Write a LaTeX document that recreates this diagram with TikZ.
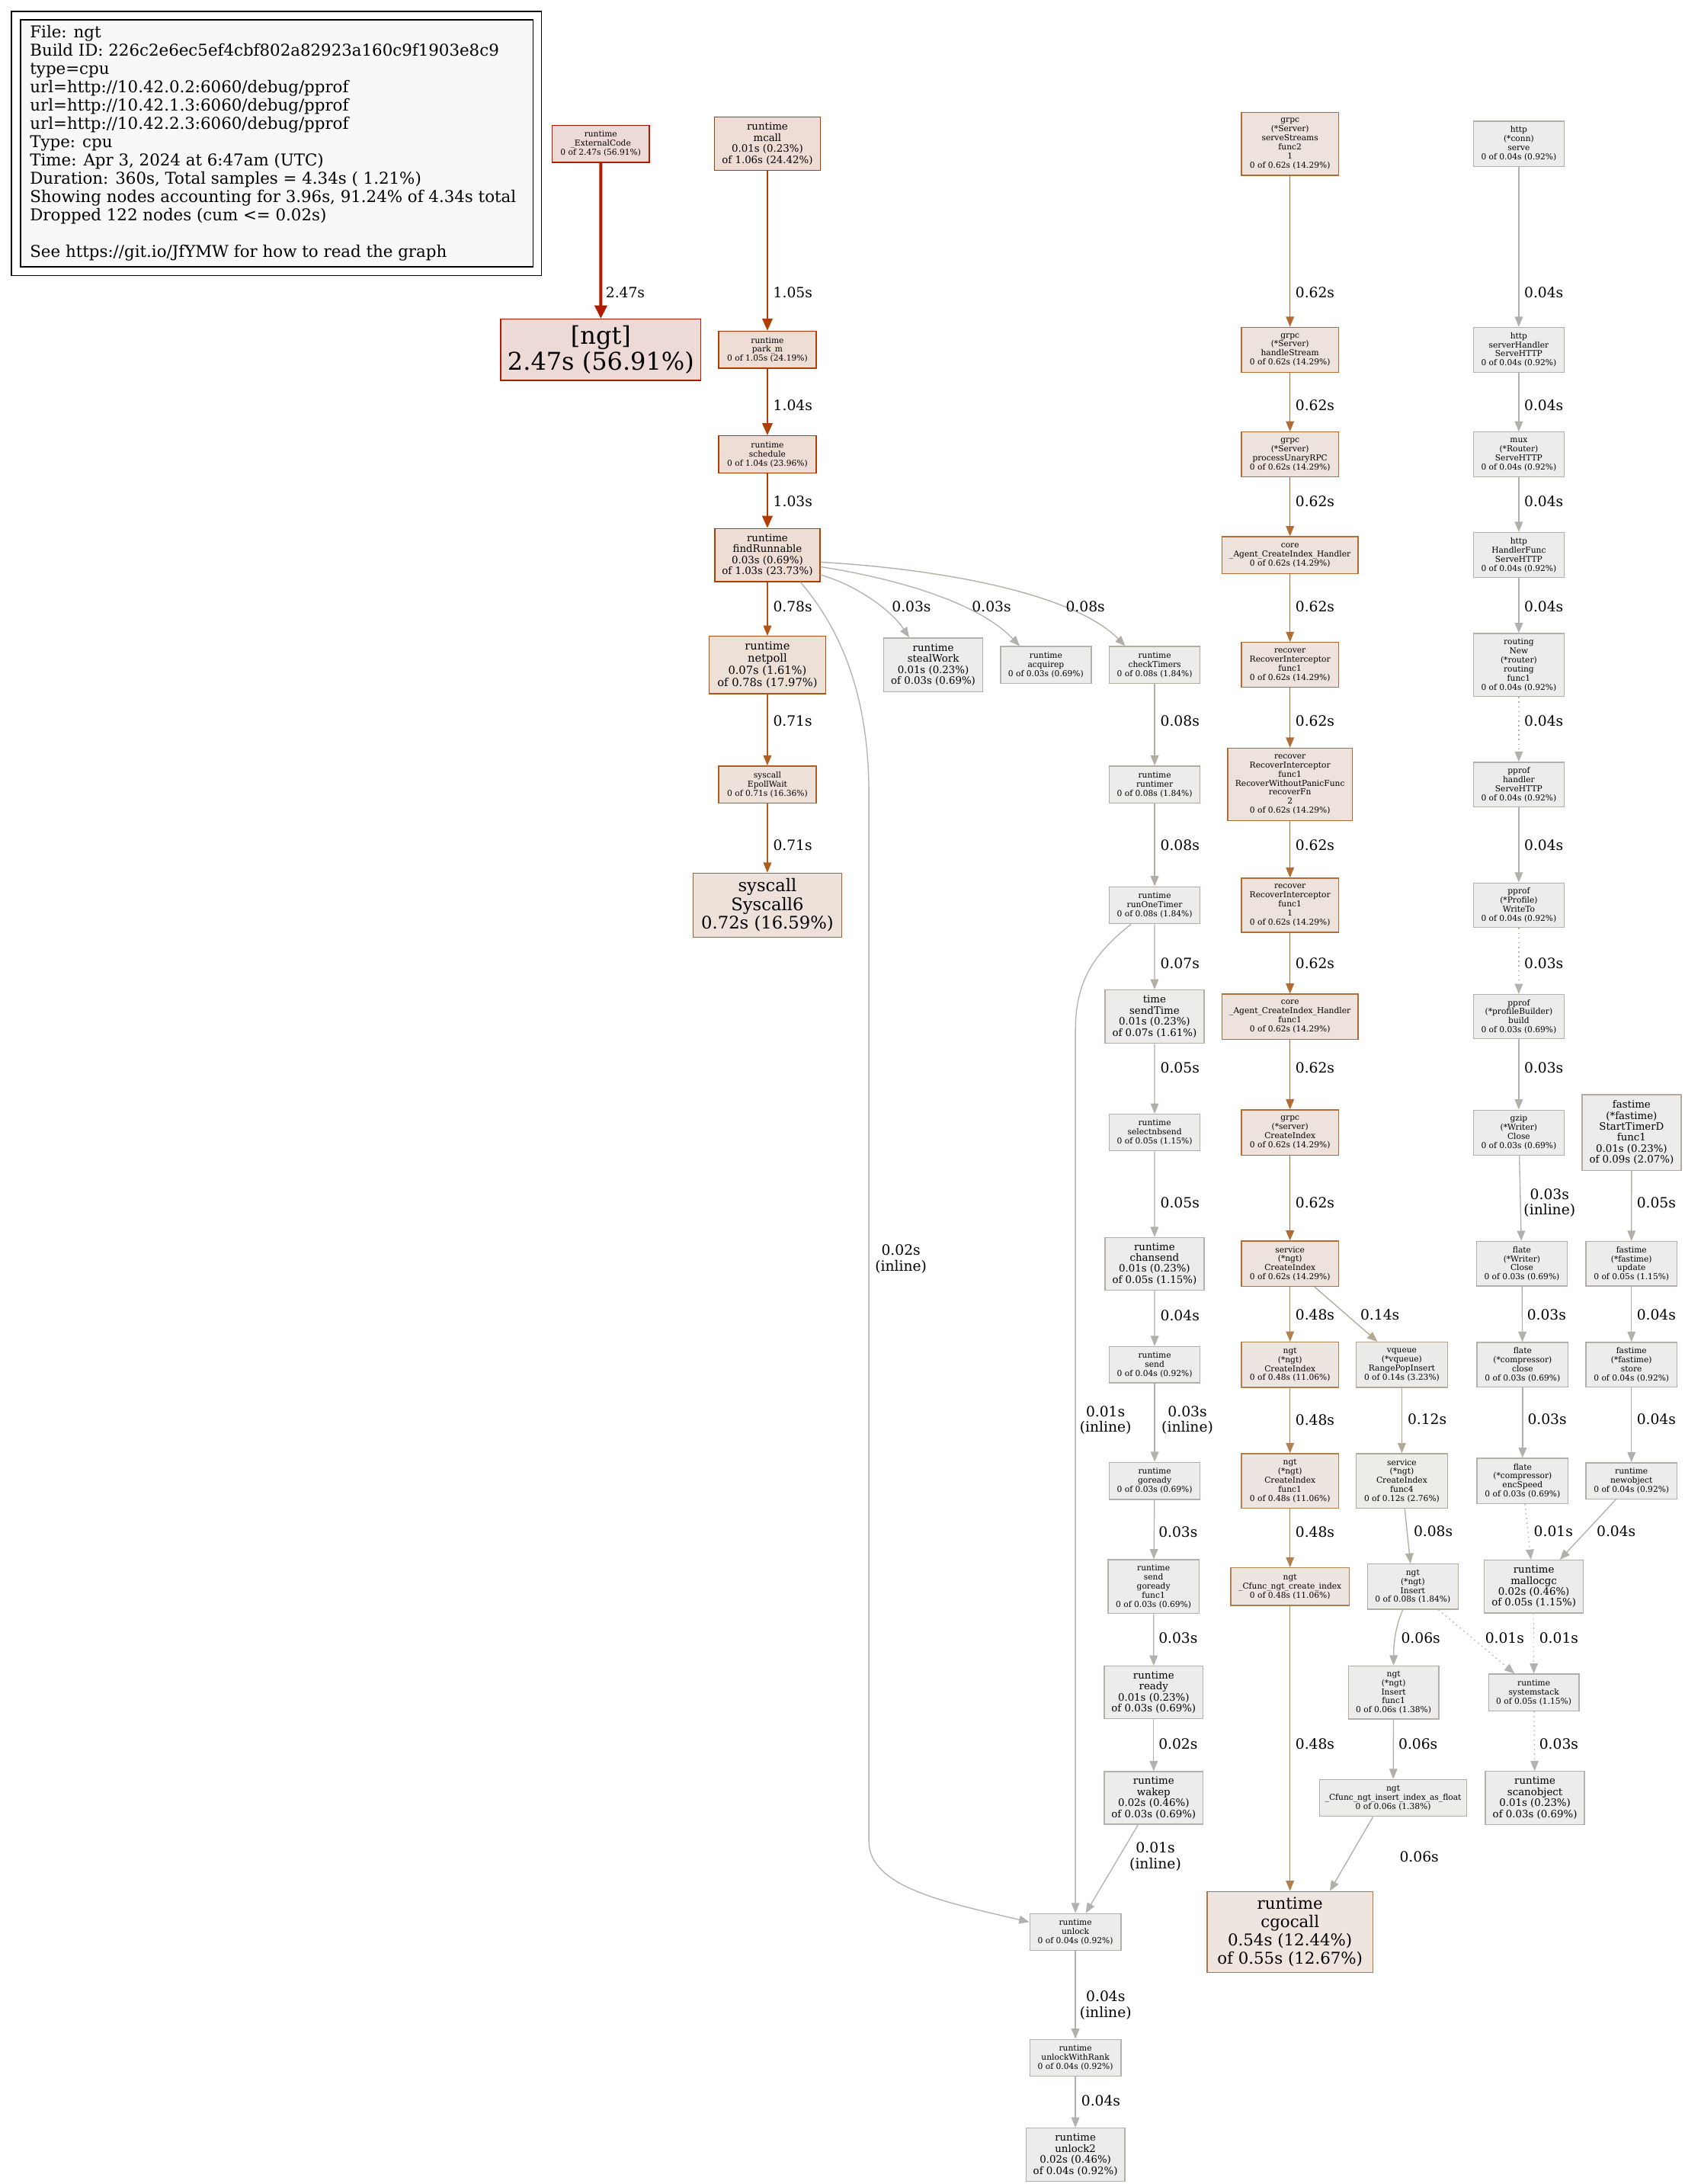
\documentclass[tikz,border=0pt]{standalone}
\usepackage{fontspec}
\setmainfont{DejaVu Serif}
\usetikzlibrary{arrows.meta,calc}
\definecolor{fgR}{HTML}{B21B00}\definecolor{bgR}{HTML}{EDD9D5}
\definecolor{fgM}{HTML}{B23D00}\definecolor{bgM}{HTML}{EDDDD5}
\definecolor{fgN}{HTML}{B25212}\definecolor{bgN}{HTML}{EDE0D7}
\definecolor{fgS}{HTML}{B25C1E}\definecolor{bgS}{HTML}{EDE1D9}
\definecolor{fgEp}{HTML}{B25D20}
\definecolor{fgG}{HTML}{B26B32}\definecolor{bgG}{HTML}{EDE3DC}
\definecolor{fgC}{HTML}{B27541}\definecolor{bgC}{HTML}{EDE5DE}
\definecolor{fgI}{HTML}{B27F4F}\definecolor{bgI}{HTML}{EDE6E0}
\definecolor{fgV}{HTML}{B2A895}\definecolor{bgV}{HTML}{EDEBE9}
\definecolor{fgF}{HTML}{B2AA99}\definecolor{bgF}{HTML}{EDECE9}
\definecolor{fgT}{HTML}{B2ACA0}\definecolor{bgT}{HTML}{EDECEA}
\definecolor{fgA}{HTML}{B2ADA2}
\definecolor{fgB}{HTML}{B2AEA4}
\definecolor{fgD}{HTML}{B2AFA6}
\definecolor{fgE}{HTML}{B2AFA8}
\definecolor{fgH}{HTML}{B2B0AA}
\definecolor{fgJ}{HTML}{B2B1AC}
\definecolor{fgK}{HTML}{B2B1AE}
\definecolor{fgL}{HTML}{B2B2B0}
\definecolor{bgX}{HTML}{EDECEB}
\definecolor{legfill}{HTML}{F8F8F8}
\tikzset{
  nb/.style={draw, rectangle, inner sep=0pt, align=center, line width=1pt},
  sz/.style 2 args={minimum width=#1*1.3698pt, minimum height=#2*1.3698pt},
  f8/.style={font=\fontsize{8}{8.9}\selectfont},
  f10/.style={font=\fontsize{10}{10.8}\selectfont},
  f11/.style={font=\fontsize{11}{11.9}\selectfont},
  f16/.style={font=\fontsize{16}{17.8}\selectfont},
  f17/.style={font=\fontsize{17}{18.4}\selectfont},
  f24/.style={font=\fontsize{24}{26}\selectfont},
  cR/.style={draw=fgR, fill=bgR}, cM/.style={draw=fgM, fill=bgM},
  cN/.style={draw=fgN, fill=bgN}, cS/.style={draw=fgS, fill=bgS},
  cEp/.style={draw=fgEp, fill=bgS},
  cG/.style={draw=fgG, fill=bgG}, cC/.style={draw=fgC, fill=bgC},
  cI/.style={draw=fgI, fill=bgI}, cV/.style={draw=fgV, fill=bgV},
  cF/.style={draw=fgF, fill=bgF}, cT/.style={draw=fgT, fill=bgT},
  cA/.style={draw=fgA, fill=bgX}, cB/.style={draw=fgB, fill=bgX},
  cD/.style={draw=fgD, fill=bgX}, cE/.style={draw=fgE, fill=bgX},
  cH/.style={draw=fgH, fill=bgX}, cJ/.style={draw=fgJ, fill=bgX},
  ed/.style={line width=1pt, -{Triangle[length=10pt,width=8pt]}},
  edb/.style={line width=2pt, -{Triangle[length=12pt,width=10pt]}},
  edc/.style={line width=3pt, -{Triangle[length=13pt,width=12pt]}},
  dotl/.style={dash pattern=on 1.2pt off 3.4pt},
  lb/.style={font=\fontsize{14}{15.5}\selectfont, inner sep=0pt, anchor=west},
  lbc/.style={font=\fontsize{14}{15.5}\selectfont, inner sep=0pt, align=center},
  lg/.style={font=\fontsize{16}{18}\selectfont, inner sep=0pt, anchor=base west},
}
\begin{document}
\begin{tikzpicture}[x=1.3698pt,y=-1.3698pt]
\useasboundingbox (0,0) rectangle (1210,1568);
% legend
\draw[line width=1pt, black] (8.2,8.2) rectangle (388.7,197.7);
\draw[line width=1pt, black, fill=legfill] (14.8,14.2) rectangle (382.7,191.6);
\node[lg] (lg1) at (21.4,27.0) {File: ngt};
\node[lg] (lg2) at (21.4,40.16) {Build ID: 226c2e6ec5ef4cbf802a82923a160c9f1903e8c9};
\node[lg] (lg3) at (21.4,53.32) {type=cpu};
\node[lg] (lg4) at (21.4,66.48) {url=http://10.42.0.2:6060/debug/pprof};
\node[lg] (lg5) at (21.4,79.64) {url=http://10.42.1.3:6060/debug/pprof};
\node[lg] (lg6) at (21.4,92.8) {url=http://10.42.2.3:6060/debug/pprof};
\node[lg] (lg7) at (21.4,105.96) {Type: cpu};
\node[lg] (lg8) at (21.4,119.12) {Time: Apr 3, 2024 at 6:47am (UTC)};
\node[lg] (lg9) at (21.4,132.28) {Duration: 360s, Total samples = 4.34s ( 1.21\%)};
\node[lg] (lg10) at (21.4,145.44) {Showing nodes accounting for 3.96s, 91.24\% of 4.34s total};
\node[lg] (lg11) at (21.4,158.6) {Dropped 122 nodes (cum <= 0.02s)};
\node[lg] (lg12) at (21.4,184.92) {See https://git.io/JfYMW for how to read the graph};

% left columns
\node[nb,f8,cR,sz={69.7}{26.6}] (ext) at (431.4,103.2) {runtime\\\_ExternalCode\\0 of 2.47s (56.91\%)};
\node[nb,f24,cR,sz={143.8}{44}] (ngt) at (431.5,251.1) {[ngt]\\2.47s (56.91\%)};
\node[nb,f10,cM,sz={75.8}{38.1}] (mcall) at (551.1,103.2) {runtime\\mcall\\0.01s (0.23\%)\\of 1.06s (24.42\%)};
\node[nb,f8,cM,sz={70}{26.5}] (park) at (551.1,251.1) {runtime\\park\_m\\0 of 1.05s (24.19\%)};
\node[nb,f8,cM,sz={70}{26.8}] (sched) at (551.1,326.3) {runtime\\schedule\\0 of 1.04s (23.96\%)};
\node[nb,f10,cM,sz={75.5}{38}] (fr) at (551.1,398.5) {runtime\\findRunnable\\0.03s (0.69\%)\\of 1.03s (23.73\%)};
\node[nb,f11,cN,sz={84}{41.1}] (np) at (551.1,477.4) {runtime\\netpoll\\0.07s (1.61\%)\\of 0.78s (17.97\%)};
\node[nb,f8,cEp,sz={70}{26.5}] (ep) at (551.1,563.2) {syscall\\EpollWait\\0 of 0.71s (16.36\%)};
\node[nb,f17,cS,sz={106.6}{46}] (sys) at (551.1,649.9) {syscall\\Syscall6\\0.72s (16.59\%)};
\node[nb,f10,cJ,sz={71.4}{38.7}] (steal) at (670.2,477.4) {runtime\\stealWork\\0.01s (0.23\%)\\of 0.03s (0.69\%)};
\node[nb,f8,cJ,sz={65.1}{26.5}] (acq) at (751.1,477.4) {runtime\\acquirep\\0 of 0.03s (0.69\%)};
\node[nb,f8,cA,sz={65.3}{26.5}] (ct) at (829.2,477.4) {runtime\\checkTimers\\0 of 0.08s (1.84\%)};
\node[nb,f8,cA,sz={65.3}{26.4}] (rt) at (829.2,563.2) {runtime\\runtimer\\0 of 0.08s (1.84\%)};
\node[nb,f8,cA,sz={65.3}{26.6}] (rot) at (829.2,649.9) {runtime\\runOneTimer\\0 of 0.08s (1.84\%)};
\node[nb,f10,cB,sz={71.2}{38.4}] (st) at (829.1,729.9) {time\\sendTime\\0.01s (0.23\%)\\of 0.07s (1.61\%)};
\node[nb,f8,cE,sz={65.3}{26.4}] (sel) at (829.2,813.1) {runtime\\selectnbsend\\0 of 0.05s (1.15\%)};
\node[nb,f10,cE,sz={71.2}{37.7}] (cs) at (829.1,907.3) {runtime\\chansend\\0.01s (0.23\%)\\of 0.05s (1.15\%)};
\node[nb,f8,cH,sz={65.3}{26.1}] (snd) at (829.2,979.8) {runtime\\send\\0 of 0.04s (0.92\%)};
\node[nb,f8,cJ,sz={65.3}{26.6}] (gr) at (829.2,1063.2) {runtime\\goready\\0 of 0.03s (0.69\%)};
\node[nb,f8,cJ,sz={65.4}{38.6}] (sgf) at (828.4,1139.1) {runtime\\send\\goready\\func1\\0 of 0.03s (0.69\%)};
\node[nb,f10,cJ,sz={71}{37.8}] (rdy) at (828.5,1215.1) {runtime\\ready\\0.01s (0.23\%)\\of 0.03s (0.69\%)};
\node[nb,f10,cJ,sz={71}{37.8}] (wk) at (828.5,1290.8) {runtime\\wakep\\0.02s (0.46\%)\\of 0.03s (0.69\%)};
\node[nb,f8,cH,sz={65.5}{26.3}] (ul) at (772.3,1387) {runtime\\unlock\\0 of 0.04s (0.92\%)};
\node[nb,f8,cH,sz={65.5}{26.6}] (ulr) at (772.3,1477.4) {runtime\\unlockWithRank\\0 of 0.04s (0.92\%)};
\node[nb,f10,cH,sz={71}{38.3}] (ul2) at (772.3,1547) {runtime\\unlock2\\0.02s (0.46\%)\\of 0.04s (0.92\%)};

% grpc column
\node[nb,f8,cG,sz={69.8}{45.2}] (ss) at (926.4,103.2) {grpc\\(*Server)\\serveStreams\\func2\\1\\0 of 0.62s (14.29\%)};
\node[nb,f8,cG,sz={69.8}{32.3}] (hs) at (926.4,251.1) {grpc\\(*Server)\\handleStream\\0 of 0.62s (14.29\%)};
\node[nb,f8,cG,sz={69.8}{32.3}] (pu) at (926.4,326.3) {grpc\\(*Server)\\processUnaryRPC\\0 of 0.62s (14.29\%)};
\node[nb,f8,cG,sz={97.6}{26.4}] (ah) at (926.4,398.5) {core\\\_Agent\_CreateIndex\_Handler\\0 of 0.62s (14.29\%)};
\node[nb,f8,cG,sz={69.8}{32.3}] (ri) at (926.4,477.4) {recover\\RecoverInterceptor\\func1\\0 of 0.62s (14.29\%)};
\node[nb,f8,cG,sz={89.4}{52.1}] (rfn) at (926.4,563.2) {recover\\RecoverInterceptor\\func1\\RecoverWithoutPanicFunc\\recoverFn\\2\\0 of 0.62s (14.29\%)};
\node[nb,f8,cG,sz={69.8}{38.9}] (ri1) at (926.4,649.9) {recover\\RecoverInterceptor\\func1\\1\\0 of 0.62s (14.29\%)};
\node[nb,f8,cG,sz={97.6}{32.3}] (af) at (926.4,729.9) {core\\\_Agent\_CreateIndex\_Handler\\func1\\0 of 0.62s (14.29\%)};
\node[nb,f8,cG,sz={69.8}{32.5}] (gci) at (926.4,813.1) {grpc\\(*server)\\CreateIndex\\0 of 0.62s (14.29\%)};
\node[nb,f8,cG,sz={69.8}{32.5}] (sci) at (926.4,907.3) {service\\(*ngt)\\CreateIndex\\0 of 0.62s (14.29\%)};
\node[nb,f8,cI,sz={69.8}{32.5}] (nci) at (926.4,979.8) {ngt\\(*ngt)\\CreateIndex\\0 of 0.48s (11.06\%)};
\node[nb,f8,cI,sz={69.8}{39.2}] (ncf) at (926.4,1063.2) {ngt\\(*ngt)\\CreateIndex\\func1\\0 of 0.48s (11.06\%)};
\node[nb,f8,cI,sz={85.1}{26.9}] (cfc) at (926.4,1139.1) {ngt\\\_Cfunc\_ngt\_create\_index\\0 of 0.48s (11.06\%)};
\node[nb,f16,cC,sz={119}{58.1}] (cgo) at (926.4,1387) {runtime\\cgocall\\0.54s (12.44\%)\\of 0.55s (12.67\%)};

% vqueue column
\node[nb,f8,cV,sz={65.4}{32.5}] (vq) at (1006.7,979.8) {vqueue\\(*vqueue)\\RangePopInsert\\0 of 0.14s (3.23\%)};
\node[nb,f8,cF,sz={65.4}{39}] (sf4) at (1006.7,1063.2) {service\\(*ngt)\\CreateIndex\\func4\\0 of 0.12s (2.76\%)};
\node[nb,f8,cA,sz={65.3}{32.5}] (ins) at (1014.6,1139.1) {ngt\\(*ngt)\\Insert\\0 of 0.08s (1.84\%)};
\node[nb,f8,cD,sz={65.1}{38}] (insf) at (1000.8,1215.1) {ngt\\(*ngt)\\Insert\\func1\\0 of 0.06s (1.38\%)};
\node[nb,f8,cD,sz={105.8}{26.5}] (cfi) at (1000.5,1290.8) {ngt\\\_Cfunc\_ngt\_insert\_index\_as\_float\\0 of 0.06s (1.38\%)};

% http column
\node[nb,f8,cH,sz={65.3}{32.5}] (hsv) at (1090.7,103.2) {http\\(*conn)\\serve\\0 of 0.04s (0.92\%)};
\node[nb,f8,cH,sz={65.3}{32.2}] (shd) at (1090.7,251.1) {http\\serverHandler\\ServeHTTP\\0 of 0.04s (0.92\%)};
\node[nb,f8,cH,sz={65.3}{32.3}] (mux) at (1090.7,326.3) {mux\\(*Router)\\ServeHTTP\\0 of 0.04s (0.92\%)};
\node[nb,f8,cH,sz={65.3}{32.5}] (hf) at (1090.7,398.5) {http\\HandlerFunc\\ServeHTTP\\0 of 0.04s (0.92\%)};
\node[nb,f8,cH,sz={65.3}{45.2}] (rn) at (1090.7,477.4) {routing\\New\\(*router)\\routing\\func1\\0 of 0.04s (0.92\%)};
\node[nb,f8,cH,sz={65.3}{32}] (ph) at (1090.7,563.2) {pprof\\handler\\ServeHTTP\\0 of 0.04s (0.92\%)};
\node[nb,f8,cH,sz={65.3}{32}] (wt) at (1090.7,649.9) {pprof\\(*Profile)\\WriteTo\\0 of 0.04s (0.92\%)};
\node[nb,f8,cJ,sz={65.3}{31.8}] (bld) at (1090.7,729.9) {pprof\\(*profileBuilder)\\build\\0 of 0.03s (0.69\%)};
\node[nb,f8,cJ,sz={65.3}{32.3}] (gz) at (1090.7,813.1) {gzip\\(*Writer)\\Close\\0 of 0.03s (0.69\%)};
\node[nb,f8,cJ,sz={65.3}{32.1}] (fwc) at (1092.9,907.3) {flate\\(*Writer)\\Close\\0 of 0.03s (0.69\%)};
\node[nb,f8,cJ,sz={65.4}{32.1}] (fcc) at (1093.4,979.8) {flate\\(*compressor)\\close\\0 of 0.03s (0.69\%)};
\node[nb,f8,cJ,sz={65.4}{32.4}] (fes) at (1093.4,1063.2) {flate\\(*compressor)\\encSpeed\\0 of 0.03s (0.69\%)};
\node[nb,f10,cE,sz={71}{38}] (mgc) at (1101.5,1139.1) {runtime\\mallocgc\\0.02s (0.46\%)\\of 0.05s (1.15\%)};
\node[nb,f8,cE,sz={65.1}{26.4}] (sstk) at (1101.5,1215.1) {runtime\\systemstack\\0 of 0.05s (1.15\%)};
\node[nb,f10,cJ,sz={71.1}{38}] (scan) at (1102.3,1290.8) {runtime\\scanobject\\0.01s (0.23\%)\\of 0.03s (0.69\%)};

% fastime column
\node[nb,f10,cT,sz={71.2}{54.3}] (std) at (1171.7,813.1) {fastime\\(*fastime)\\StartTimerD\\func1\\0.01s (0.23\%)\\of 0.09s (2.07\%)};
\node[nb,f8,cE,sz={65.5}{32.1}] (upd) at (1171.6,907.3) {fastime\\(*fastime)\\update\\0 of 0.05s (1.15\%)};
\node[nb,f8,cH,sz={65.5}{32.1}] (sto) at (1171.6,979.8) {fastime\\(*fastime)\\store\\0 of 0.04s (0.92\%)};
\node[nb,f8,cH,sz={65.5}{26}] (nob) at (1171.6,1063.2) {runtime\\newobject\\0 of 0.04s (0.92\%)};

% edges left
\draw[edc, draw=fgR] (ext) -- (ngt);
\draw[edb, draw=fgM] (mcall) -- (park);
\draw[edb, draw=fgM] (park) -- (sched);
\draw[edb, draw=fgM] (sched) -- (fr);
\draw[ed, draw=fgN] (fr) -- (np);
\draw[ed, draw=fgEp] (np) -- (ep);
\draw[ed, draw=fgEp] (ep) -- (sys);
\draw[ed, draw=fgJ] ($(fr.east)+(0,14.2)$) .. controls (615,420) and (640,438) .. ($(steal.north)+(-17.3,0)$);
\draw[ed, draw=fgJ] ($(fr.east)+(0,8.4)$) .. controls (635,414) and (700,430) .. ($(acq.north)+(-18.8,0)$);
\draw[ed, draw=fgA] ($(fr.east)+(0,5.1)$) .. controls (670,408) and (770,425) .. ($(ct.north)+(-21.1,0)$);
\draw[ed, draw=fgK] ($(fr.south)+(23.6,0)$) .. controls (598,445) and (624,490) .. (624,570) -- (624,1322) .. controls (624,1355) and (680,1366) .. ($(ul.west)+(0,-7.1)$);
\draw[ed, draw=fgA] (ct) -- (rt);
\draw[ed, draw=fgA] (rt) -- (rot);
\draw[ed, draw=fgB] (rot) -- (st);
\draw[ed, draw=fgE] (st) -- (sel);
\draw[ed, draw=fgE] (sel) -- (cs);
\draw[ed, draw=fgH] (cs) -- (snd);
\draw[ed, draw=fgJ] (snd) -- (gr);
\draw[ed, draw=fgJ] (gr) -- (sgf);
\draw[ed, draw=fgJ] (sgf) -- (rdy);
\draw[ed, draw=fgK] (rdy) -- (wk);
\draw[ed, draw=fgL] ($(wk.south)+(-11.2,0)$) -- ($(ul.north)+(7.4,0)$);
\draw[ed, draw=fgL] ($(rot.south)+(-17,0)$) .. controls (785,685) and (772.3,705) .. (772.3,740) -- (ul.north);
\draw[ed, draw=fgH] (ul) -- (ulr);
\draw[ed, draw=fgH] (ulr) -- (ul2);

% edges grpc
\draw[ed, draw=fgG] (ss) -- (hs);
\draw[ed, draw=fgG] (hs) -- (pu);
\draw[ed, draw=fgG] (pu) -- (ah);
\draw[ed, draw=fgG] (ah) -- (ri);
\draw[ed, draw=fgG] (ri) -- (rfn);
\draw[ed, draw=fgG] (rfn) -- (ri1);
\draw[ed, draw=fgG] (ri1) -- (af);
\draw[ed, draw=fgG] (af) -- (gci);
\draw[ed, draw=fgG] (gci) -- (sci);
\draw[ed, draw=fgI] (sci) -- (nci);
\draw[ed, draw=fgV] ($(sci.south)+(17.6,0)$) -- ($(vq.north)+(-17.5,0)$);
\draw[ed, draw=fgI] (nci) -- (ncf);
\draw[ed, draw=fgI] (ncf) -- (cfc);
\draw[ed, draw=fgI] (cfc) -- (cgo);
\draw[ed, draw=fgF] (vq) -- (sf4);
\draw[ed, draw=fgA] (sf4) -- (ins);
\draw[ed, draw=fgD] ($(ins.south)+(-7.2,0)$) .. controls (1002,1168) and (1000.8,1180) .. (insf.north);
\draw[ed, draw=fgD] (insf) -- (cfi);
\draw[ed, draw=fgD] ($(cfi.south)+(-14.5,0)$) -- ($(cgo.north)+(28.6,0)$);
\draw[ed, dotl, draw=fgL] ($(ins.south)+(18.4,0)$) -- ($(sstk.north)+(-13.8,0)$);

% edges http
\draw[ed, draw=fgH] (hsv) -- (shd);
\draw[ed, draw=fgH] (shd) -- (mux);
\draw[ed, draw=fgH] (mux) -- (hf);
\draw[ed, draw=fgH] (hf) -- (rn);
\draw[ed, dotl, draw=fgH] (rn) -- (ph);
\draw[ed, draw=fgH] (ph) -- (wt);
\draw[ed, dotl, draw=fgJ] (wt) -- (bld);
\draw[ed, draw=fgJ] (bld) -- (gz);
\draw[ed, draw=fgJ] (gz) -- (fwc);
\draw[ed, draw=fgJ] (fwc) -- (fcc);
\draw[ed, draw=fgJ] (fcc) -- (fes);
\draw[ed, dotl, draw=fgL] (fes) -- (mgc);
\draw[ed, draw=fgH] ($(nob.south)+(-11.2,0)$) -- ($(mgc.north)+(18.7,0)$);
\draw[ed, dotl, draw=fgL] (mgc) -- (sstk);
\draw[ed, dotl, draw=fgJ] (sstk) -- (scan);
\draw[ed, draw=fgE] (std) -- (upd);
\draw[ed, draw=fgH] (upd) -- (sto);
\draw[ed, draw=fgH] (sto) -- (nob);

% labels
\node[lb] (l1) at (434.9,210.2) {2.47s};
\node[lb] (l2) at (555.2,210.2) {1.05s};
\node[lb] (l3) at (555.2,291.2) {1.04s};
\node[lb] (l4) at (555.2,360.2) {1.03s};
\node[lb] (l5) at (555.1,435.4) {0.78s};
\node[lb] (l6) at (555.1,517.7) {0.71s};
\node[lb] (l7) at (555.1,606.9) {0.71s};
\node[lb] (l8) at (640.4,435.4) {0.03s};
\node[lb] (l9) at (697.9,435.4) {0.03s};
\node[lb] (l10) at (765.3,435.4) {0.08s};
\node[lbc] (l11) at (647,904) {0.02s\\(inline)};
\node[lb] (l12) at (833.2,517.7) {0.08s};
\node[lb] (l13) at (833.2,606.9) {0.08s};
\node[lb] (l14) at (833.2,691.6) {0.07s};
\node[lb] (l15) at (833.2,766.8) {0.05s};
\node[lb] (l16) at (833.2,863.6) {0.05s};
\node[lb] (l17) at (833.2,944.2) {0.04s};
\node[lbc] (l18) at (852.7,1019.6) {0.03s\\(inline)};
\node[lbc] (l19) at (793.9,1019.6) {0.01s\\(inline)};
\node[lb] (l20) at (831.9,1099.7) {0.03s};
\node[lb] (l21) at (831.9,1176) {0.03s};
\node[lb] (l22) at (831.9,1252.3) {0.02s};
\node[lbc] (l23) at (829.7,1333) {0.01s\\(inline)};
\node[lbc] (l24) at (794,1439.8) {0.04s\\(inline)};
\node[lb] (l25) at (776.4,1508.3) {0.04s};
\node[lb] (l26) at (930.2,210.1) {0.62s};
\node[lb] (l27) at (930.2,291.2) {0.62s};
\node[lb] (l28) at (930.2,360.1) {0.62s};
\node[lb] (l29) at (930.2,435.4) {0.62s};
\node[lb] (l30) at (930.2,517.6) {0.62s};
\node[lb] (l31) at (930.2,606.8) {0.62s};
\node[lb] (l32) at (930.2,691.7) {0.62s};
\node[lb] (l33) at (930.2,766.8) {0.62s};
\node[lb] (l34) at (930.2,863.6) {0.62s};
\node[lb] (l35) at (930.2,944) {0.48s};
\node[lb] (l36) at (976.8,944) {0.14s};
\node[lb] (l37) at (930.2,1019.3) {0.48s};
\node[lb] (l38) at (1010.7,1019) {0.12s};
\node[lb] (l39) at (930.2,1100) {0.48s};
\node[lb] (l40) at (1015.1,1099.6) {0.08s};
\node[lb] (l41) at (930.2,1252.3) {0.48s};
\node[lb] (l42) at (1006.1,1176) {0.06s};
\node[lb] (l43) at (1066.4,1176) {0.01s};
\node[lb] (l44) at (1004.2,1252.3) {0.06s};
\node[lb] (l45) at (1005,1333) {0.06s};
\node[lb] (l46) at (1094.5,210) {0.04s};
\node[lb] (l47) at (1094.5,291) {0.04s};
\node[lb] (l48) at (1094.5,359.8) {0.04s};
\node[lb] (l49) at (1094.5,435.5) {0.04s};
\node[lb] (l50) at (1094.5,517.6) {0.04s};
\node[lb] (l51) at (1094.5,606.8) {0.04s};
\node[lb] (l52) at (1094.5,691.7) {0.03s};
\node[lb] (l53) at (1094.5,766.8) {0.03s};
\node[lbc] (l54) at (1112.8,863.7) {0.03s\\(inline)};
\node[lb] (l55) at (1096.5,944) {0.03s};
\node[lb] (l56) at (1096.9,1019) {0.03s};
\node[lb] (l57) at (1101.4,1099.6) {0.01s};
\node[lb] (l58) at (1146.5,1099.6) {0.04s};
\node[lb] (l59) at (1105.3,1176) {0.01s};
\node[lb] (l60) at (1105.3,1252.3) {0.03s};
\node[lb] (l61) at (1175.3,863.3) {0.05s};
\node[lb] (l62) at (1175.3,944) {0.04s};
\node[lb] (l63) at (1175.3,1019) {0.04s};
\end{tikzpicture}
\end{document}
